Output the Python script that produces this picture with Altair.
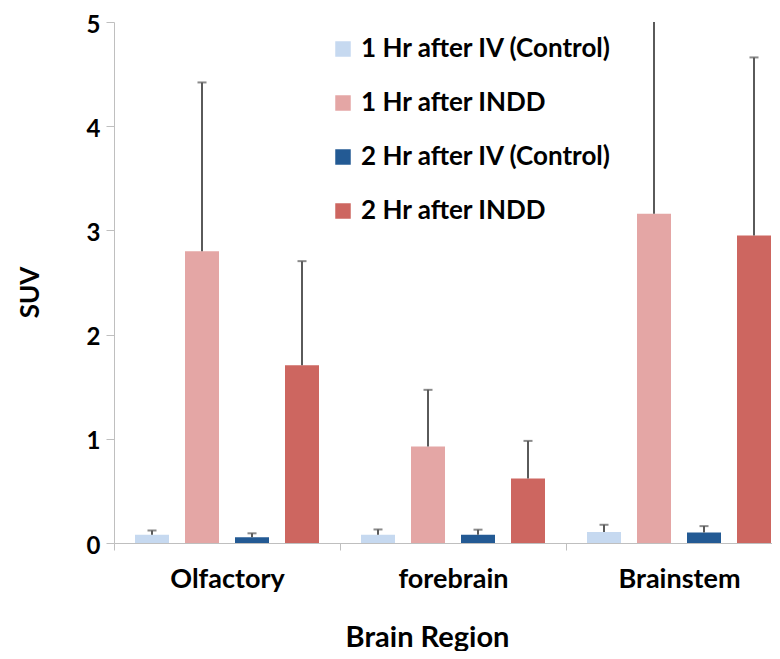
import altair as alt
import pandas as pd

regions = ["Olfactory", "forebrain", "Brainstem"]
series = ["1 Hr after IV (Control)", "1 Hr after INDD",
          "2 Hr after IV (Control)", "2 Hr after INDD"]
colors = ["#c6d9f0", "#e4a6a5", "#235a94", "#cd6660"]

mean_1hr_iv = [0.08, 0.08, 0.105]
mean_1hr_indd = [2.80, 0.925, 3.16]
mean_2hr_iv = [0.055, 0.08, 0.10]
mean_2hr_indd = [1.705, 0.62, 2.95]

err_1hr_iv = [0.04, 0.05, 0.07]
err_1hr_indd = [1.62, 0.545, 2.3]
err_2hr_iv = [0.038, 0.048, 0.062]
err_2hr_indd = [1.0, 0.36, 1.71]

means = [mean_1hr_iv, mean_1hr_indd, mean_2hr_iv, mean_2hr_indd]
errs = [err_1hr_iv, err_1hr_indd, err_2hr_iv, err_2hr_indd]

rows = []
for s, m_list, e_list in zip(series, means, errs):
    for r, m, e in zip(regions, m_list, e_list):
        rows.append({"region": r, "series": s, "mean": m, "top": m + e})
df = pd.DataFrame(rows)

FONT = "Lato"
AX = "#bfbfbf"

x = alt.X("region:N", sort=regions,
          scale=alt.Scale(range=[0, 678], paddingInner=0, paddingOuter=0),
          axis=alt.Axis(title="Brain Region", labelAngle=0, tickBand="extent",
                        tickSize=7, tickColor=AX, domainColor=AX,
                        labelFont=FONT, labelFontSize=27, labelFontWeight="bold",
                        labelColor="#000", labelPadding=16,
                        titleFont=FONT, titleFontSize=29, titleFontWeight="bold",
                        titleColor="#000", titlePadding=31, titleX=313))
xo = alt.XOffset("series:N", sort=series,
                 scale=alt.Scale(domain=series, paddingInner=0.32, paddingOuter=0.42))

base = alt.Chart(df)

bars = base.mark_bar().encode(
    x=x, xOffset=xo,
    y=alt.Y("mean:Q", scale=alt.Scale(domain=[0, 5]),
            axis=alt.Axis(title="SUV", values=[0, 1, 2, 3, 4, 5], format="d", grid=False,
                          tickSize=8, tickColor=AX, domainColor=AX,
                          labelFont=FONT, labelFontSize=24, labelFontWeight="bold",
                          labelColor="#000", labelPadding=6, labelOffset=3,
                          titleFont=FONT, titleFontSize=26, titleFontWeight="bold",
                          titleColor="#000", titleX=-84, titleY=270,
                          titleBaseline="middle")),
    color=alt.Color("series:N", sort=series,
                    scale=alt.Scale(domain=series, range=colors),
                    legend=alt.Legend(title=None, orient="none", legendX=216, legendY=14,
                                      symbolType="square", symbolSize=240,
                                      symbolStrokeWidth=0, labelLimit=0,
                                      labelFont=FONT, labelFontSize=26,
                                      labelFontWeight="bold", labelColor="#000",
                                      labelOffset=5, rowPadding=28)),
)

rules = base.mark_rule(color="#5a5a5a", strokeWidth=2, clip=True).encode(
    x=x, xOffset=xo, y="mean:Q", y2="top:Q")

caps = base.mark_tick(color="#5a5a5a", thickness=2, size=9, clip=True).encode(
    x=x, xOffset=xo, y="top:Q")

chart = alt.layer(bars, rules, caps).properties(
    width=658, height=521,
    autosize=alt.AutoSizeParams(type="none"),
    padding={"left": 106, "top": 14, "right": 0, "bottom": 108},
).configure_view(stroke=None)

chart.save("out.html", embed_options={"renderer": "svg", "actions": False})
